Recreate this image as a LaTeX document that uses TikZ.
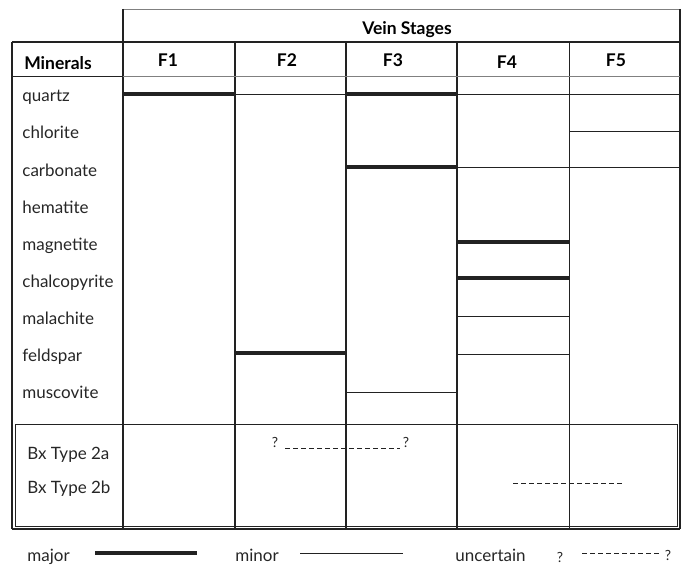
\documentclass[tikz,border=0pt]{standalone}
\usepackage{fontspec}
\setmainfont{Lato}
\usepackage{tikz}
\usetikzlibrary{positioning}
\definecolor{rulec}{HTML}{222222}
\definecolor{greyc}{HTML}{808080}
\newcommand{\majorbar}[3]{%
  \draw[rulec, line width=3.4pt] (#1,#3) -- (#2,#3);
}
\newcommand{\minorbar}[3]{%
  \draw[rulec, line width=0.8pt] (#1,#3) -- (#2,#3);
}
\begin{document}
\begin{tikzpicture}[x=1pt, y=-1pt, line width=0.8pt,
    font=\fontsize{17}{20}\selectfont,
    txt/.style={inner sep=0pt, anchor=base west, text=black!85},
    hd/.style={inner sep=0pt, anchor=base, font=\fontsize{17.5}{20}\selectfont\bfseries},
    qm/.style={inner sep=0pt, anchor=base, font=\fontsize{14}{16}\selectfont, text=black!85},
    frame/.style={rulec, line width=1.1pt},
    unc/.style={rulec, line width=0.6pt, dash pattern=on 5pt off 3pt}]
  \useasboundingbox (0,0) rectangle (691,567);
  % frame of the table
  \draw[greyc] (123,9) -- (680,9);
  \draw[frame] (12,42) -- (680,42);
  \draw[frame] (12,42) -- (12,529);
  \draw[frame] (123,9) -- (123,529);
  \draw[frame] (680,9) -- (680,529);
  \foreach \x in {235,346,457} \draw[frame, line width=1.5pt] (\x,42) -- (\x,529);
  \draw[rulec] (569,42) -- (569,529);
  \draw[frame] (12,529) -- (680,529);
  \draw[rulec] (12,76) -- (123,76);
  \draw[greyc] (123,76) -- (680,76);
  \draw[rulec, line width=0.6pt] (15,424) rectangle (677,526);
  % headings
  \node[hd] (stages) at (407,35) {Vein Stages};
  \node[hd] (minhd) at (58,70) {Minerals};
  \foreach \x/\y [count=\i] in {168/67, 287/67, 393/67, 507/69, 616/67}
    \node[hd] (f\i) at (\x,\y) {F\i};
  % minerals
  \foreach \m [count=\i from 0] in {quartz, chlorite, carbonate, hematite,
      magnetite, chalcopyrite, malachite, feldspar, muscovite}
    \node[txt] (m\i) at (22,{102+37*\i}) {\m};
  % F1
  \majorbar{123}{235}{94}
  % F2
  \minorbar{235}{346}{94}
  \majorbar{235}{346}{353}
  % F3
  \majorbar{346}{457}{94}
  \majorbar{346}{457}{167}
  \minorbar{346}{457}{392}
  % F4
  \minorbar{457}{569}{94}
  \minorbar{457}{569}{167}
  \majorbar{457}{569}{242}
  \majorbar{457}{569}{278}
  \minorbar{457}{569}{316}
  \minorbar{457}{569}{354}
  % F5
  \minorbar{569}{680}{94}
  \minorbar{569}{680}{131}
  \minorbar{569}{680}{167}
  % breccias
  \node[txt] (bxa) at (27,459) {Bx Type 2a};
  \node[txt] (bxb) at (27,493) {Bx Type 2b};
  \node[qm] (qa) at (275,447) {?};
  \node[qm] (qb) at (406,447) {?};
  \draw[unc] (285,448) -- (400,448);
  \draw[unc] (513,483) -- (623,483);
  % legend
  \node[txt] (lmaj) at (27,561) {major};
  \majorbar{95}{197}{553}
  \node[txt] (lmin) at (235,561) {minor};
  \minorbar{300}{403}{553}
  \node[txt] (lunc) at (455,561) {uncertain};
  \node[qm] (lqa) at (560,562) {?};
  \draw[unc] (582,553) -- (661,553);
  \node[qm] (lqb) at (668,560) {?};
\end{tikzpicture}
\end{document}
